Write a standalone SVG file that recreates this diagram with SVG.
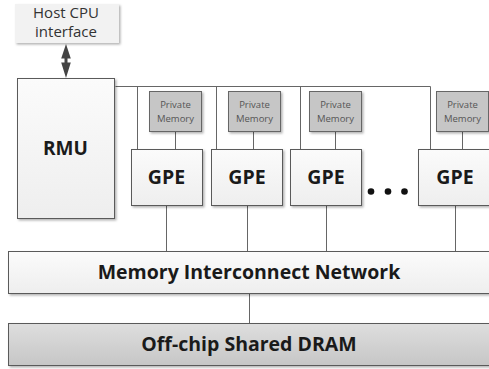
<svg xmlns="http://www.w3.org/2000/svg" width="489" height="369" viewBox="0 0 489 369">
<style>
.box{fill:url(#lg);stroke:#5a5a5a;stroke-width:1}
.pm{fill:#c6c6c6;stroke:#666;stroke-width:1}
.dram{fill:url(#dg);stroke:#5a5a5a;stroke-width:1}
.big{font-family:"Open Sans","Liberation Sans",sans-serif;font-weight:700;fill:#1a1a1a;text-anchor:middle}
.sm{font-family:"Open Sans","Liberation Sans",sans-serif;font-size:9.5px;fill:#555;text-anchor:middle}
.host{font-family:"Open Sans","Liberation Sans",sans-serif;font-size:15px;fill:#333;text-anchor:middle}
.ln{stroke:#666;stroke-width:1;fill:none}
</style>
<defs>
<linearGradient id="lg" x1="0" y1="0" x2="0" y2="1"><stop offset="0" stop-color="#fbfbfb"/><stop offset="1" stop-color="#eeeeee"/></linearGradient>
<linearGradient id="dg" x1="0" y1="0" x2="0" y2="1"><stop offset="0" stop-color="#dedede"/><stop offset="1" stop-color="#c6c6c6"/></linearGradient>
<filter id="sh" x="-10%" y="-10%" width="130%" height="130%"><feDropShadow dx="1.5" dy="1.5" stdDeviation="1" flood-color="#000" flood-opacity="0.3"/></filter>
</defs>
<g id="connectors">
<path class="ln" d="M115.5,86.5 H430.5 M137.5,86.5 V149 M216.5,86.5 V149 M300.5,86.5 V149 M430.5,86.5 V149"/>
<path class="ln" d="M175.5,132 V149 M253.5,132 V149 M335.5,132 V149 M462.5,132 V149"/>
<path class="ln" d="M166.5,206 V251 M247.5,206 V251 M326.5,206 V251 M455.5,206 V251"/>
<path class="ln" d="M249.5,294 V323"/>
<path d="M66,44 L70.8,58.5 L67.5,58.5 L67.5,62.5 L70.8,62.5 L66,78 L61.2,62.5 L64.5,62.5 L64.5,58.5 L61.2,58.5 Z" fill="#444"/>
</g>
<g id="host">
<rect x="15" y="4" width="104" height="39" fill="#f2f2f2" filter="url(#sh)"/>
<text class="host" x="66" y="18">Host CPU</text>
<text class="host" x="66" y="37">interface</text>
</g>
<g id="rmu">
<rect class="box" x="17.5" y="78.5" width="97" height="140" filter="url(#sh)"/>
<text class="big" x="65.5" y="155" font-size="19">RMU</text>
</g>
<g id="pm1"><rect class="pm" x="149.5" y="91.5" width="52" height="40" filter="url(#sh)"/><text class="sm" x="175.5" y="108">Private</text><text class="sm" x="175.5" y="121.5">Memory</text></g>
<g id="pm2"><rect class="pm" x="228.5" y="91.5" width="52" height="40" filter="url(#sh)"/><text class="sm" x="254.5" y="108">Private</text><text class="sm" x="254.5" y="121.5">Memory</text></g>
<g id="pm3"><rect class="pm" x="309.5" y="91.5" width="52" height="40" filter="url(#sh)"/><text class="sm" x="335.5" y="108">Private</text><text class="sm" x="335.5" y="121.5">Memory</text></g>
<g id="pm4"><rect class="pm" x="436.5" y="91.5" width="52" height="40" filter="url(#sh)"/><text class="sm" x="462.5" y="108">Private</text><text class="sm" x="462.5" y="121.5">Memory</text></g>
<g id="gpe1"><rect class="box" x="131.5" y="149.5" width="71" height="56" filter="url(#sh)"/><text class="big" x="166.5" y="184" font-size="19.5">GPE</text></g>
<g id="gpe2"><rect class="box" x="211.5" y="149.5" width="71" height="56" filter="url(#sh)"/><text class="big" x="247" y="184" font-size="19.5">GPE</text></g>
<g id="gpe3"><rect class="box" x="290.5" y="149.5" width="71" height="56" filter="url(#sh)"/><text class="big" x="326" y="184" font-size="19.5">GPE</text></g>
<g id="dots"><circle cx="371" cy="191.5" r="3.3" fill="#111"/><circle cx="388" cy="191.5" r="3.3" fill="#111"/><circle cx="404.5" cy="191.5" r="3.3" fill="#111"/></g>
<g id="gpe4"><rect class="box" x="418.5" y="149.5" width="80" height="56" filter="url(#sh)"/><text class="big" x="455" y="184" font-size="19.5">GPE</text></g>
<g id="min"><rect class="box" x="8.5" y="251.5" width="490" height="42" filter="url(#sh)"/><text class="big" x="249" y="279" font-size="19.5">Memory Interconnect Network</text></g>
<g id="dram"><rect class="dram" x="8.5" y="323.5" width="490" height="42" filter="url(#sh)"/><text class="big" x="249" y="351" font-size="19.5">Off-chip Shared DRAM</text></g>
</svg>
